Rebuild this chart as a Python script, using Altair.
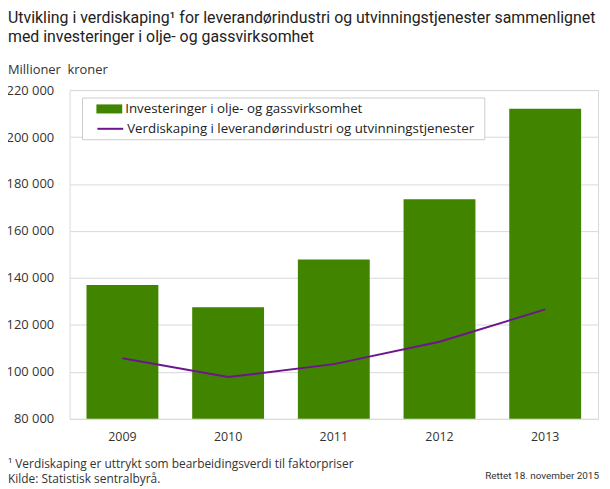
import altair as alt
import pandas as pd

years = ["2009", "2010", "2011", "2012", "2013"]
investeringer = [137000, 127500, 147800, 173500, 212000]
verdiskaping = [105800, 97800, 103300, 112800, 126600]
y_ticks = [80000, 100000, 120000, 140000, 160000, 180000, 200000, 220000]

bar_name = "Investeringer i olje- og gassvirksomhet"
line_name = "Verdiskaping i leverandørindustri og utvinningstjenester"
title_1 = "Utvikling i verdiskaping¹ for leverandørindustri og utvinningstjenester sammenlignet"
title_2 = "med investeringer i olje- og gassvirksomhet"
unit_label = "Millioner\u00a0 kroner"
note_1 = "¹ Verdiskaping er uttrykt som bearbeidingsverdi til faktorpriser"
note_2 = "Kilde: Statistisk sentralbyrå."
note_3 = "Rettet 18. november 2015"

GREEN = "#418400"
PURPLE = "#6d1590"
GRID = "#d9d9d9"
TXT = "#333333"
FONT = "Open Sans"
TFONT = "Roboto"

df = pd.DataFrame({"year": years, "inv": investeringer, "verdi": verdiskaping,
                   "s1": bar_name, "s2": line_name})

x = alt.X("year:N", title=None,
          scale=alt.Scale(paddingInner=0.32, paddingOuter=0.16),
          axis=alt.Axis(labelAngle=0, domain=False, ticks=False, labelFontSize=12.5,
                        labelPadding=12, labelColor=TXT, labelFont=FONT))
yscale = alt.Scale(domain=[80000, 220000], zero=False, nice=False)
yaxis = alt.Axis(values=y_ticks, domain=False, ticks=False, labelFontSize=13, labelFont=FONT,
                 labelColor=TXT, labelPadding=16, gridColor=GRID,
                 labelExpr="replace(format(datum.value, ','), ',', ' ')")

frame = alt.Chart(pd.DataFrame({"a": [0]})).mark_rect(
    fill="white", stroke="#cccccc", strokeWidth=1).encode(
    x=alt.value(13), x2=alt.value(418), y=alt.value(8), y2=alt.value(50))

bars = alt.Chart(df).mark_bar(clip=True).encode(
    x=x,
    y=alt.Y("inv:Q", scale=yscale, axis=yaxis, title=None),
    fill=alt.Fill("s1:N", scale=alt.Scale(domain=[bar_name], range=[GREEN]),
                  legend=alt.Legend(title=None, orient="none", legendX=27, legendY=6,
                                    symbolType="M-1,-0.35H1V0.35H-1Z", symbolSize=676,
                                    symbolStrokeWidth=0, labelFontSize=13.4, labelFont=FONT,
                                    labelColor="#222222", labelOffset=3, padding=0,
                                    labelLimit=600)),
)

line = alt.Chart(df).mark_line(strokeWidth=2).encode(
    x=x,
    y=alt.Y("verdi:Q", scale=yscale, title=None),
    stroke=alt.Stroke("s2:N", scale=alt.Scale(domain=[line_name], range=[PURPLE]),
                      legend=alt.Legend(title=None, orient="none", legendX=27, legendY=25,
                                        symbolType="stroke", symbolSize=676,
                                        symbolStrokeWidth=2, labelFontSize=13.4, labelFont=FONT,
                                        labelColor="#222222", labelOffset=3, padding=0,
                                        labelLimit=600)),
)


def label(text, xv, yv, size, font=FONT, align="left", color=TXT):
    return alt.Chart(pd.DataFrame({"t": [text]})).mark_text(
        align=align, baseline="alphabetic", fontSize=size, font=font, color=color).encode(
        x=alt.value(xv), y=alt.value(yv), text="t:N")


texts = [
    label(title_1, -62, -68, 16, TFONT, color="#222222"),
    label(title_2, -62, -48, 16, TFONT, color="#222222"),
    label(unit_label, -62, -16, 13),
    label(note_1, -62, 380, 12),
    label(note_2, -62, 396, 12),
    label(note_3, 533, 392, 10, TFONT, align="right"),
]

chart = alt.layer(frame, bars, line, *texts).properties(
    width=532, height=331,
    padding={"left": 62, "top": 81, "right": 4, "bottom": 68},
    autosize=alt.AutoSizeParams(type="none"),
).configure_view(stroke=GRID, strokeWidth=1)

chart.save("out.html", embed_options={"renderer": "svg", "actions": False})
